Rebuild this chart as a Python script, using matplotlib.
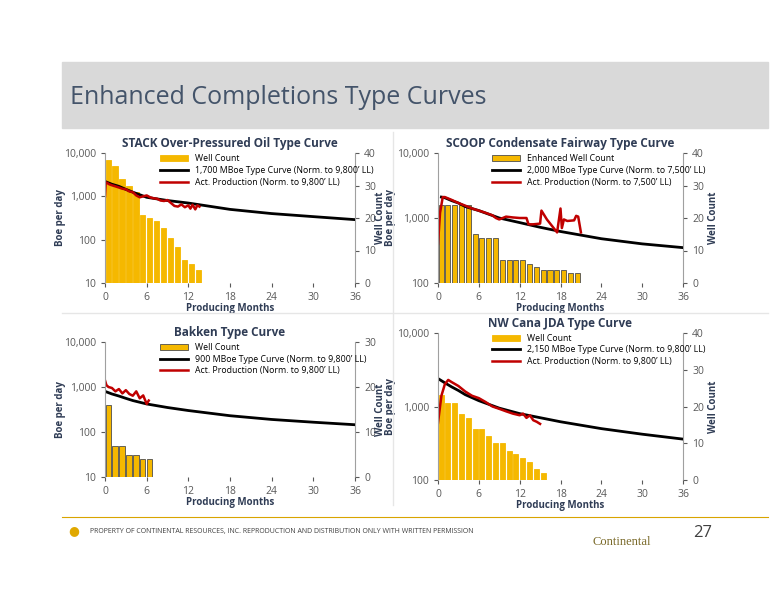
import numpy as np
import matplotlib.pyplot as plt
from matplotlib.ticker import FuncFormatter

plt.rcParams['font.family'] = ['Open Sans', 'DejaVu Sans']

# ---- data ----
stack_wells = [38, 36, 32, 30, 28, 21, 20, 19, 17, 14, 11, 7, 6, 4]
stack_tc_m = [0, 1, 2, 3, 4, 6, 9, 12, 18, 24, 30, 36]
stack_tc = [2200, 1900, 1700, 1450, 1250, 950, 800, 700, 500, 400, 340, 290]
stack_act_m = [0, 0.1, 0.3, 0.6, 1, 1.5, 2, 2.5, 3, 3.5, 4, 4.5, 5, 5.5, 6, 6.5, 7, 7.5, 8, 8.5, 9, 9.5, 10, 10.5, 11, 11.5, 12, 12.3, 12.6, 13, 13.3, 13.6]
stack_act = [1000, 2100, 2050, 1900, 1800, 1700, 1600, 1500, 1450, 1300, 1250, 1050, 950, 1000, 1050, 950, 900, 880, 800, 780, 820, 700, 600, 580, 650, 560, 620, 520, 640, 500, 620, 580]

scoop_wells = [24, 24, 24, 24, 24, 15, 14, 14, 14, 7, 7, 7, 7, 6, 5, 4, 4, 4, 4, 3, 3]
scoop_tc_m = [0.5, 1, 2, 3, 4, 6, 9, 12, 15, 18, 24, 30, 36]
scoop_tc = [2100, 2050, 1850, 1700, 1500, 1300, 1000, 850, 720, 620, 480, 400, 350]
scoop_act_m = [0, 0.3, 0.7, 1, 2, 3, 4, 5, 6, 7, 8, 8.5, 9, 10, 11, 12, 13, 13.3, 14, 15, 15.2, 16, 17, 17.5, 18, 18.2, 18.5, 19, 20, 20.3, 20.6, 21]
scoop_act = [400, 1200, 2100, 2100, 1900, 1700, 1550, 1400, 1300, 1200, 1100, 1000, 950, 1050, 1020, 1000, 1000, 800, 800, 820, 1300, 950, 700, 600, 1400, 700, 950, 900, 920, 1080, 1050, 600]

bakken_wells = [16, 7, 7, 5, 5, 4, 4]
bakken_tc_m = [0, 1, 2, 3, 4, 6, 9, 12, 18, 24, 30, 36]
bakken_tc = [800, 700, 630, 560, 500, 420, 350, 300, 230, 190, 165, 145]
bakken_act_m = [0, 0.2, 0.5, 1, 1.5, 2, 2.5, 3, 3.5, 4, 4.5, 5, 5.5, 6, 6.3]
bakken_act = [1400, 1100, 1000, 950, 800, 900, 720, 850, 700, 640, 800, 560, 650, 420, 500]

cana_wells = [23, 21, 21, 18, 17, 14, 14, 12, 10, 10, 8, 7, 6, 5, 3, 2]
cana_tc_m = [0, 1, 2, 3, 4, 6, 9, 12, 18, 24, 30, 36]
cana_tc = [2400, 2100, 1850, 1650, 1450, 1200, 950, 800, 620, 500, 420, 360]
cana_act_m = [0, 0.5, 1, 1.5, 2, 3, 4, 5, 6, 7, 8, 9, 10, 11, 12, 12.5, 13, 13.5, 14, 14.5, 15]
cana_act = [600, 1400, 2000, 2300, 2150, 1900, 1600, 1400, 1300, 1150, 1000, 930, 860, 800, 760, 800, 700, 760, 650, 620, 580]

months_ticks = [0, 6, 12, 18, 24, 30, 36]

GOLD = '#F5B800'
NAVY = '#2F3C55'

fig = plt.figure(figsize=(7.76, 6.0), dpi=100)
W, H = 776, 600


def ax_rect(l, t, r, b):
    return [l / W, 1 - b / H, (r - l) / W, (b - t) / H]


# header band
fig.patches.append(plt.Rectangle((62 / W, 1 - 128 / H), (768 - 62) / W, 66 / H,
                                 transform=fig.transFigure, color='#D9D9D9', zorder=0))
fig.text(70 / W, 1 - 97 / H, 'Enhanced Completions Type Curves', fontsize=18,
         color='#44546A', va='center')
# panel separators
fig.add_artist(plt.Line2D([393 / W, 393 / W], [1 - 505 / H, 1 - 132 / H], color='#E6E6E6', lw=1))
fig.add_artist(plt.Line2D([62 / W, 768 / W], [1 - 313 / H, 1 - 313 / H], color='#E6E6E6', lw=1))


def panel(rect, title, wells, tc_m, tc, act_m, act, ylim, wmax, tc_label, leg_label, bar_edge, lx, rx):
    ax = fig.add_axes(ax_rect(*rect))
    ax2 = ax.twinx()
    # bars go on the right axis, drawn behind lines
    ax.set_zorder(ax2.get_zorder() + 1)
    ax.patch.set_visible(False)
    x = np.arange(len(wells)) + 0.45
    ax2.bar(x, wells, width=0.75, color=GOLD, edgecolor=bar_edge, lw=0.6, label=leg_label)
    ax2.set_ylim(0, wmax)
    ax2.set_yticks(np.arange(0, wmax + 1, 10))
    ax.plot(tc_m, tc, color='black', lw=2, label=tc_label[0])
    ax.plot(act_m, act, color='#C00000', lw=1.8, label=tc_label[1])
    ax.set_yscale('log')
    ax.set_ylim(*ylim)
    ax.set_xlim(0, 36)
    ax.set_xticks(months_ticks)
    ax.yaxis.set_major_formatter(FuncFormatter(lambda v, p: f'{int(v):,}'))
    ax.yaxis.set_minor_locator(plt.NullLocator())
    for a in (ax, ax2):
        for s in a.spines.values():
            s.set_visible(False)
        a.tick_params(labelsize=7.5, colors='#595959', length=3)
    ax.spines['left'].set_visible(True)
    ax.spines['left'].set_color('#A0A0A0')
    ax2.spines['right'].set_visible(True)
    ax2.spines['right'].set_color('#A0A0A0')
    ax.set_title(title, fontsize=8.5, fontweight='bold', color=NAVY, pad=4)
    ax.set_xlabel('Producing Months', fontsize=7, fontweight='bold', color=NAVY, labelpad=0)
    ax.set_ylabel('Boe per day', fontsize=7, fontweight='bold', color=NAVY)
    ax2.set_ylabel('Well Count', fontsize=7, fontweight='bold', color=NAVY)
    ax.yaxis.set_label_coords(lx, 0.5)
    ax2.yaxis.set_label_coords(rx, 0.5)
    h1, l1 = ax2.get_legend_handles_labels()
    h2, l2 = ax.get_legend_handles_labels()
    ax.legend(h1 + h2, l1 + l2, loc='upper left', bbox_to_anchor=(0.2, 1.03), fontsize=6.3,
              frameon=False, handlelength=3.2, labelspacing=0.3, borderaxespad=0.2)


panel((105, 153, 355, 283), 'STACK Over-Pressured Oil Type Curve', stack_wells, stack_tc_m, stack_tc,
      stack_act_m, stack_act, (10, 10000), 40,
      ['1,700 MBoe Type Curve (Norm. to 9,800\u2019 LL)', 'Act. Production (Norm. to 9,800\u2019 LL)'],
      'Well Count', GOLD, -0.155, 1.08)
panel((438, 153, 683, 283), 'SCOOP Condensate Fairway Type Curve', scoop_wells, scoop_tc_m, scoop_tc,
      scoop_act_m, scoop_act, (100, 10000), 40,
      ['2,000 MBoe Type Curve (Norm. to 7,500\u2019 LL)', 'Act. Production (Norm. to 7,500\u2019 LL)'],
      'Enhanced Well Count', '#4D4D4D', -0.17, 1.1)
panel((105, 342, 355, 477), 'Bakken Type Curve', bakken_wells, bakken_tc_m, bakken_tc,
      bakken_act_m, bakken_act, (10, 10000), 30,
      ['900 MBoe Type Curve (Norm. to 9,800\u2019 LL)', 'Act. Production (Norm. to 9,800\u2019 LL)'],
      'Well Count', '#4D4D4D', -0.155, 1.08)
panel((438, 333, 683, 480), 'NW Cana JDA Type Curve', cana_wells, cana_tc_m, cana_tc,
      cana_act_m, cana_act, (100, 10000), 40,
      ['2,150 MBoe Type Curve (Norm. to 9,800\u2019 LL)', 'Act. Production (Norm. to 9,800\u2019 LL)'],
      'Well Count', GOLD, -0.17, 1.1)

# footer
fig.add_artist(plt.Line2D([62 / W, 768 / W], [1 - 517 / H, 1 - 517 / H], color='#D9A400', lw=0.8))
fig.text(90 / W, 1 - 531 / H, 'PROPERTY OF CONTINENTAL RESOURCES, INC. REPRODUCTION AND DISTRIBUTION ONLY WITH WRITTEN PERMISSION',
         fontsize=5, color='#404040', va='center')
fig.text(74 / W, 1 - 531 / H, '\u25CF', fontsize=9, color='#E0A800', va='center', ha='center')
fig.text(703 / W, 1 - 533 / H, '27', fontsize=12, color='#404040', va='center', ha='center')
fig.text(622 / W, 1 - 542 / H, 'Continental', fontsize=9, color='#7A6A2A', family='Liberation Serif',
         va='center', ha='center')

fig.savefig('out.png', dpi=100, facecolor='white')
